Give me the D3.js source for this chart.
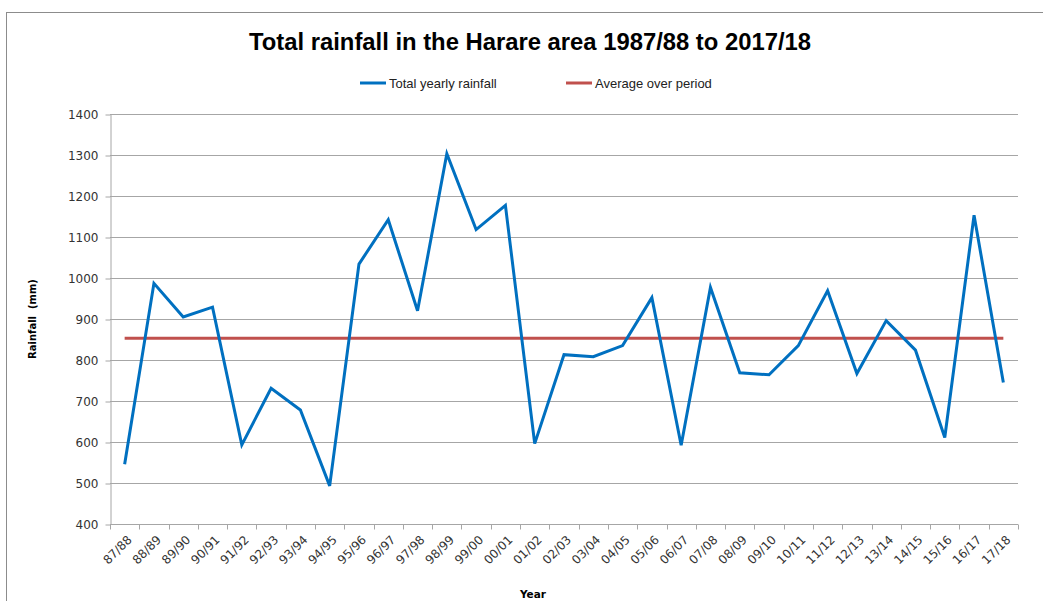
<!DOCTYPE html>
<html>
<head>
<meta charset="utf-8">
<script src="https://cdn.jsdelivr.net/npm/d3@7"></script>
<style>
  body { margin: 0; background: #fff; }
  svg { display: block; }
</style>
</head>
<body>
<svg id="chart" width="1043" height="601"></svg>
<script>
// data
var years = ['87/88','88/89','89/90','90/91','91/92','92/93','93/94','94/95','95/96','96/97',
  '97/98','98/99','99/00','00/01','01/02','02/03','03/04','04/05','05/06','06/07',
  '07/08','08/09','09/10','10/11','11/12','12/13','13/14','14/15','15/16','16/17','17/18'];
var rainfall = [546, 987, 905, 929, 593, 731, 678, 493, 1034, 1142,
  920, 1303, 1118, 1177, 596, 813, 808, 835, 952, 592,
  977, 769, 764, 835, 969, 767, 896, 824, 611, 1153, 745];
var averageRain = 853;
var yTicks = [400, 500, 600, 700, 800, 900, 1000, 1100, 1200, 1300, 1400];

var svg = d3.select('#chart');
var plotLeft = 110, plotRight = 1018, plotTop = 114, plotBottom = 524;
var gridColor = '#a6a6a6';

// chart border
svg.append('rect')
  .attr('x', 6.5).attr('y', 12.5)
  .attr('width', 1100).attr('height', 700)
  .attr('fill', 'none').attr('stroke', '#8c8c8c');

var x = d3.scaleBand().domain(years).range([plotLeft, plotRight]);
var y = d3.scaleLinear().domain([400, 1400]).range([plotBottom, plotTop]);

// gridlines
svg.append('g').selectAll('line').data(yTicks.slice(1)).join('line')
  .attr('x1', plotLeft).attr('x2', plotRight)
  .attr('y1', function(d){ return Math.round(y(d)) + 0.5; })
  .attr('y2', function(d){ return Math.round(y(d)) + 0.5; })
  .attr('stroke', gridColor);

// y axis
var yAxis = svg.append('g')
  .attr('transform', 'translate(' + (plotLeft + 0.5) + ',0.5)')
  .call(d3.axisLeft(y).tickValues(yTicks).tickFormat(d3.format('d'))
    .tickSize(5).tickPadding(7).tickSizeOuter(0));
yAxis.select('.domain').attr('stroke', gridColor);
yAxis.selectAll('.tick line').attr('stroke', gridColor);
yAxis.selectAll('text')
  .attr('font-family', 'DejaVu Sans, Verdana, sans-serif')
  .attr('font-size', 12).attr('fill', '#333');

// x axis with ticks between categories
var xAxis = svg.append('g').attr('transform', 'translate(0,' + (plotBottom + 0.5) + ')');
xAxis.append('line').attr('x1', plotLeft).attr('x2', plotRight).attr('stroke', gridColor);
xAxis.selectAll('line.tk').data(years.concat(['end'])).join('line')
  .attr('class', 'tk')
  .attr('x1', function(d, i){ return Math.round(plotLeft + i * x.bandwidth()) + 0.5; })
  .attr('x2', function(d, i){ return Math.round(plotLeft + i * x.bandwidth()) + 0.5; })
  .attr('y1', 0).attr('y2', 5)
  .attr('stroke', gridColor);
xAxis.selectAll('text').data(years).join('text')
  .attr('transform', function(d){
    return 'translate(' + (x(d) + x.bandwidth() / 2 + 5) + ',13) rotate(-45)';
  })
  .attr('text-anchor', 'end')
  .attr('dy', '0.35em')
  .attr('font-family', 'DejaVu Sans, Verdana, sans-serif')
  .attr('font-size', 12).attr('fill', '#333')
  .text(function(d){ return d; });

// average line
var cx = function(d){ return x(d) + x.bandwidth() / 2; };
svg.append('line')
  .attr('x1', cx(years[0])).attr('x2', cx(years[years.length - 1]))
  .attr('y1', y(averageRain)).attr('y2', y(averageRain))
  .attr('stroke', '#c0504d').attr('stroke-width', 3);

// rainfall line
var line = d3.line()
  .x(function(d, i){ return cx(years[i]); })
  .y(function(d){ return y(d); });
svg.append('path')
  .datum(rainfall)
  .attr('d', line)
  .attr('fill', 'none')
  .attr('stroke', '#0070c0')
  .attr('stroke-width', 3)
  .attr('stroke-linejoin', 'miter');

// title
svg.append('text')
  .attr('x', 530).attr('y', 50)
  .attr('text-anchor', 'middle')
  .attr('font-family', 'Liberation Sans Narrow, Arial Narrow, sans-serif')
  .attr('font-weight', 'bold').attr('font-size', 24)
  .attr('textLength', 562).attr('lengthAdjust', 'spacingAndGlyphs')
  .attr('fill', '#000')
  .text('Total rainfall in the Harare area 1987/88 to 2017/18');

// legend
var legend = [
  { label: 'Total yearly rainfall', color: '#0070c0', x: 360 },
  { label: 'Average over period', color: '#c0504d', x: 566 }
];
var lg = svg.append('g').selectAll('g').data(legend).join('g')
  .attr('transform', function(d){ return 'translate(' + d.x + ',83)'; });
lg.append('line').attr('x1', 0).attr('x2', 26)
  .attr('stroke', function(d){ return d.color; }).attr('stroke-width', 3);
lg.append('text').attr('x', 29).attr('dy', '0.35em')
  .attr('font-family', 'Liberation Sans Narrow, Arial Narrow, sans-serif')
  .attr('font-size', 13).attr('fill', '#222')
  .text(function(d){ return d.label; });

// axis titles
svg.append('text')
  .attr('transform', 'translate(36,' + ((plotTop + plotBottom) / 2) + ') rotate(-90)')
  .attr('text-anchor', 'middle')
  .attr('font-family', 'DejaVu Sans, Verdana, sans-serif')
  .attr('font-weight', 'bold').attr('font-size', 10)
  .attr('xml:space', 'preserve')
  .text('Rainfall  (mm)');
svg.append('text')
  .attr('x', 533).attr('y', 598)
  .attr('text-anchor', 'middle')
  .attr('font-family', 'DejaVu Sans, Verdana, sans-serif')
  .attr('font-weight', 'bold').attr('font-size', 10.5)
  .text('Year');
</script>
</body>
</html>
